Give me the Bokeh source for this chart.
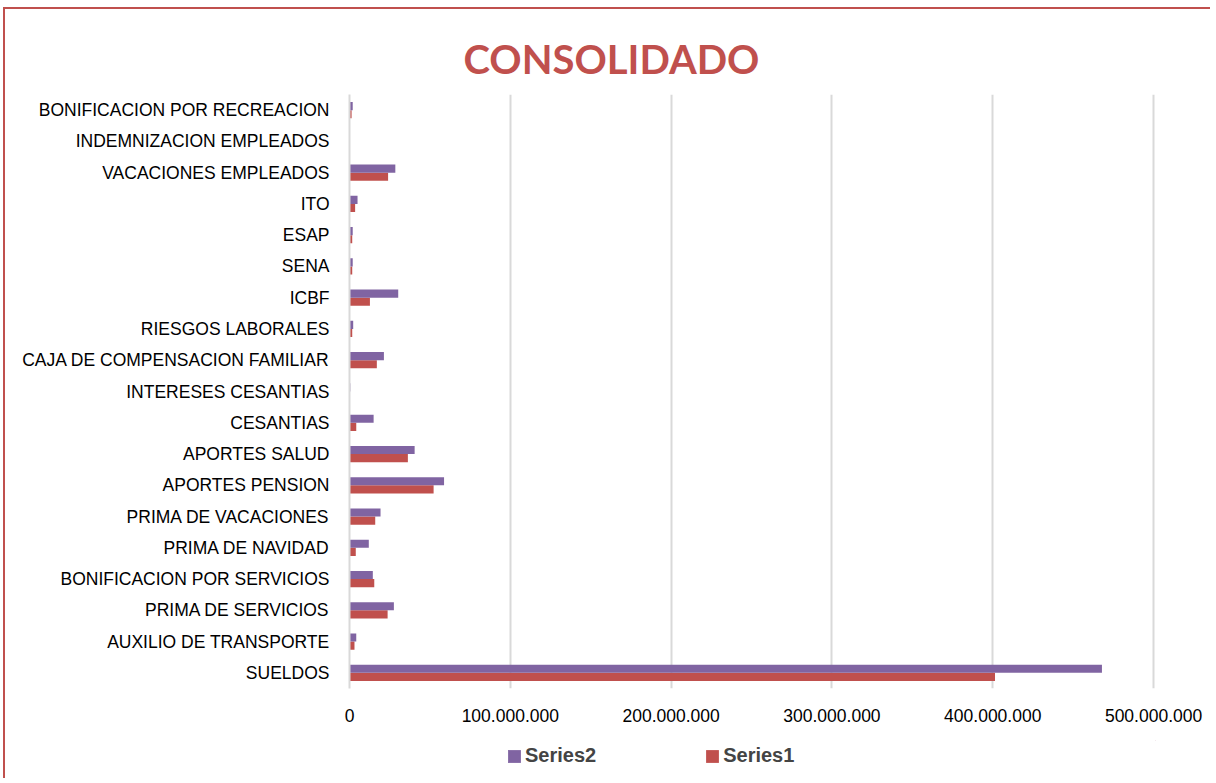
from bokeh.plotting import figure
from bokeh.models import (FactorRange, Range1d, FixedTicker, Legend, ColumnDataSource)
from bokeh.layouts import column
from bokeh.transform import dodge
from bokeh.embed import file_html
from bokeh.resources import INLINE

categories = [
    "BONIFICACION POR RECREACION", "INDEMNIZACION EMPLEADOS", "VACACIONES EMPLEADOS",
    "ITO", "ESAP", "SENA", "ICBF", "RIESGOS LABORALES", "CAJA DE COMPENSACION FAMILIAR",
    "INTERESES CESANTIAS", "CESANTIAS", "APORTES SALUD", "APORTES PENSION",
    "PRIMA DE VACACIONES", "PRIMA DE NAVIDAD", "BONIFICACION POR SERVICIOS",
    "PRIMA DE SERVICIOS", "AUXILIO DE TRANSPORTE", "SUELDOS",
]
series1 = [1300000, 0, 24000000, 3500000, 1700000, 1700000, 12700000, 1700000, 17000000,
           200000, 4200000, 36300000, 52300000, 16000000, 3900000, 15400000, 23700000,
           3100000, 401400000]
series2 = [2000000, 0, 28500000, 5000000, 2000000, 2000000, 30300000, 2300000, 21400000,
           500000, 15000000, 40500000, 58800000, 19300000, 12000000, 14500000, 27600000,
           4200000, 467900000]
tick_values = [0, 100000000, 200000000, 300000000, 400000000, 500000000]
tick_labels = ["0", "100.000.000", "200.000.000", "300.000.000", "400.000.000", "500.000.000"]
series_names = ["Series2", "Series1"]
x_max = 501200000

RED = "#C0504D"
PURPLE = "#8064A2"
FONT = "Liberation Sans"

src = ColumnDataSource(dict(cat=categories, s1=series1, s2=series2))

p = figure(width=1210, height=740,
           y_range=FactorRange(*categories[::-1]),
           x_range=Range1d(tick_values[0], x_max),
           output_backend="svg", toolbar_location=None,
           min_border_left=349, min_border_right=55,
           min_border_top=94, min_border_bottom=52)
p.border_fill_alpha = 0

r1 = p.hbar(y=dodge("cat", -0.13, range=p.y_range), left=0, right="s1", height=0.26,
            fill_color=RED, line_color=None, source=src)
r2 = p.hbar(y=dodge("cat", 0.13, range=p.y_range), left=0, right="s2", height=0.26,
            fill_color=PURPLE, line_color=None, source=src)

p.outline_line_color = None
p.ygrid.grid_line_color = None
p.xgrid.ticker = FixedTicker(ticks=tick_values[1:])
p.xgrid.grid_line_color = "#D9D9D9"
p.xgrid.grid_line_width = 2

p.xaxis.ticker = FixedTicker(ticks=tick_values)
p.xaxis.major_label_overrides = dict(zip(tick_values, tick_labels))
p.xaxis.axis_line_color = None
p.xaxis.major_tick_line_color = None
p.xaxis.major_tick_out = 0
p.xaxis.major_tick_in = 0
p.xaxis.minor_tick_line_color = None
p.xaxis.major_label_standoff = 20
p.xaxis.major_label_text_font = FONT
p.xaxis.major_label_text_font_size = "17.5px"
p.xaxis.major_label_text_color = "#000000"

p.yaxis.axis_line_color = "#D9D9D9"
p.yaxis.axis_line_width = 2
p.yaxis.major_tick_line_color = None
p.yaxis.major_tick_out = 0
p.yaxis.major_tick_in = 0
p.yaxis.minor_tick_line_color = None
p.yaxis.major_label_standoff = 20
p.yaxis.major_label_text_font = FONT
p.yaxis.major_label_text_font_size = "17.5px"
p.yaxis.major_label_text_color = "#000000"

p.title.text = "CONSOLIDADO"
p.title.align = "left"
p.title.offset = 114
p.title.standoff = 24
p.title.text_font = "Lato"
p.title.text_font_style = "bold"
p.title.text_font_size = "40px"
p.title.text_color = RED

# legend strip below the chart (its frame is aligned with the chart's frame)
leg = figure(width=1210, height=38, x_range=Range1d(0, 1), y_range=Range1d(0, 1),
             output_backend="svg", toolbar_location=None,
             x_axis_location=None, y_axis_location=None,
             min_border_left=0, min_border_right=0, min_border_top=0, min_border_bottom=0)
leg.border_fill_alpha = 0
leg.background_fill_alpha = 0
leg.outline_line_color = None
leg.grid.grid_line_color = None
lr2 = leg.hbar(y=[5], left=[5], right=[6], height=0.5, fill_color=PURPLE, line_color=None)
lr1 = leg.hbar(y=[5], left=[5], right=[6], height=0.5, fill_color=RED, line_color=None)

legend = Legend(items=[(series_names[0], [lr2]), (series_names[1], [lr1])], location=(157, 11),
                orientation="horizontal", spacing=108, padding=0, margin=0,
                glyph_width=16, glyph_height=16, label_standoff=3,
                label_text_font=FONT, label_text_font_style="bold",
                label_text_font_size="20px", border_line_color=None,
                background_fill_alpha=0)
leg.add_layout(legend)

layout = column(p, leg, spacing=0)
layout.styles = {"box-shadow": "inset 3px 7px 0px 0px #FFFFFF, inset 5px 9px 0px 0px " + RED}

open("out.html", "w").write(file_html(layout, INLINE))
